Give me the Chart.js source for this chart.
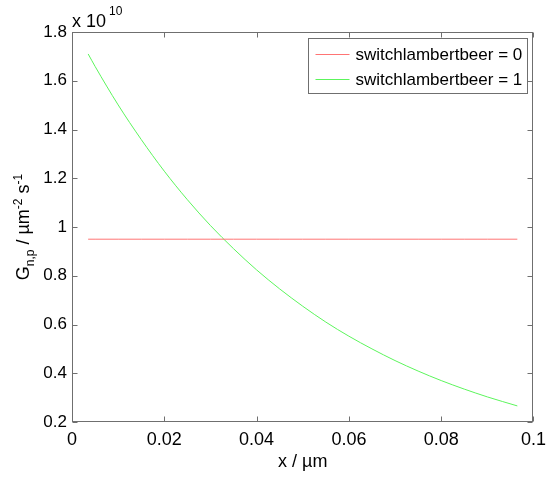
<!DOCTYPE html>
<html>
<head>
<meta charset="utf-8">
<script src="https://cdn.jsdelivr.net/npm/chart.js@4"></script>
<style>
  html, body { margin: 0; padding: 0; background: #fff; }
</style>
</head>
<body>
<canvas id="chart" width="553" height="478"></canvas>
<script>
// Data (y values in units of 1e10)
const xValues = [0.0035, 0.005, 0.01, 0.015, 0.02, 0.025, 0.03, 0.035, 0.04, 0.045,
                 0.05, 0.055, 0.06, 0.065, 0.07, 0.075, 0.08, 0.085, 0.09, 0.0965];
const lambertBeerOff = [0.95, 0.95, 0.95, 0.95, 0.95, 0.95, 0.95, 0.95, 0.95, 0.95,
                        0.95, 0.95, 0.95, 0.95, 0.95, 0.95, 0.95, 0.95, 0.95, 0.95];
const lambertBeerOn = [1.71, 1.659, 1.501, 1.359, 1.229, 1.112, 1.006, 0.911, 0.824, 0.746,
                       0.675, 0.610, 0.552, 0.500, 0.452, 0.409, 0.370, 0.335, 0.303, 0.266];
const seriesLabels = ['switchlambertbeer = 0', 'switchlambertbeer = 1'];
const xTicks = [0, 0.02, 0.04, 0.06, 0.08, 0.1];
const xTickLabels = ['0', '0.02', '0.04', '0.06', '0.08', '0.1'];
const yTicks = [0.2, 0.4, 0.6, 0.8, 1, 1.2, 1.4, 1.6, 1.8];
const yTickLabels = ['0.2', '0.4', '0.6', '0.8', '1', '1.2', '1.4', '1.6', '1.8'];

const FONT = "'Liberation Sans', Arial, Helvetica, sans-serif";
const AXIS_COLOR = '#6f6f6f';

const toPoints = (ys) => xValues.map((x, i) => ({ x: x, y: ys[i] }));

// draws the matlab-style box, inward ticks, legend and the rich-text labels
const matlabFrame = {
    id: 'matlabFrame',
    afterDraw(chart) {
        const ctx = chart.ctx;
        const a = chart.chartArea;
        const xs = chart.scales.x;
        const ys = chart.scales.y;
        const L = Math.round(a.left) + 0.5, R = Math.round(a.right) - 0.5;
        const T = Math.round(a.top) + 0.5, B = Math.round(a.bottom) - 0.5;
        const tl = 5;

        ctx.save();
        ctx.strokeStyle = AXIS_COLOR;
        ctx.lineWidth = 1;
        ctx.strokeRect(L, T, R - L, B - T);
        ctx.beginPath();
        xTicks.forEach(v => {
            const px = Math.round(xs.getPixelForValue(v)) + 0.5;
            ctx.moveTo(px, B); ctx.lineTo(px, B - tl);
            ctx.moveTo(px, T); ctx.lineTo(px, T + tl);
        });
        yTicks.forEach(v => {
            const py = Math.round(ys.getPixelForValue(v)) + 0.5;
            ctx.moveTo(L, py); ctx.lineTo(L + tl, py);
            ctx.moveTo(R, py); ctx.lineTo(R - tl, py);
        });
        ctx.stroke();

        // exponent above the y axis
        ctx.fillStyle = '#000';
        ctx.textBaseline = 'alphabetic';
        ctx.textAlign = 'left';
        ctx.font = '18px ' + FONT;
        ctx.fillText('x 10', a.left, a.top - 5);
        const w = ctx.measureText('x 10').width;
        ctx.font = '12px ' + FONT;
        ctx.fillText('10', a.left + w + 3, a.top - 17);

        // y axis title with sub/superscripts
        const parts = [
            ['G', 18, 0], ['n,p', 12, 5], [' / \u00b5m', 18, 0], ['-2', 12, -7],
            [' s', 18, 0], ['-1', 12, -7]
        ];
        let total = 0;
        parts.forEach(p => { ctx.font = p[1] + 'px ' + FONT; total += ctx.measureText(p[0]).width; });
        ctx.translate(29, (a.top + a.bottom) / 2);
        ctx.rotate(-Math.PI / 2);
        let cx = -total / 2;
        parts.forEach(p => {
            ctx.font = p[1] + 'px ' + FONT;
            ctx.fillText(p[0], cx, p[2]);
            cx += ctx.measureText(p[0]).width;
        });
        ctx.setTransform(1, 0, 0, 1, 0, 0);

        // x axis title
        ctx.font = '18px ' + FONT;
        ctx.textAlign = 'center';
        ctx.fillText('x / \u00b5m', (a.left + a.right) / 2, 467);

        // legend box in the top right corner
        ctx.font = '17px ' + FONT;
        ctx.textAlign = 'left';
        ctx.textBaseline = 'middle';
        let tw = 0;
        seriesLabels.forEach(s => { tw = Math.max(tw, ctx.measureText(s).width); });
        const bw = Math.round(48 + tw + 4), bh = 55;
        const bx = Math.round(a.right) - 6 - bw + 0.5, by = Math.round(a.top) + 6 + 0.5;
        ctx.fillStyle = '#fff';
        ctx.fillRect(bx, by, bw, bh);
        ctx.strokeStyle = AXIS_COLOR;
        ctx.strokeRect(bx, by, bw, bh);
        chart.data.datasets.forEach((ds, i) => {
            const ry = Math.round(by + 15 + i * 25) + 0.5;
            ctx.strokeStyle = ds.borderColor;
            ctx.beginPath();
            ctx.moveTo(bx + 7, ry); ctx.lineTo(bx + 41, ry);
            ctx.stroke();
            ctx.fillStyle = '#000';
            ctx.fillText(ds.label, bx + 47, ry + 1);
        });
        ctx.restore();
    }
};

const chart = new Chart(document.getElementById('chart').getContext('2d'), {
    type: 'line',
    data: {
        datasets: [
            {
                label: seriesLabels[0],
                data: toPoints(lambertBeerOff),
                borderColor: '#ff7474',
                borderWidth: 1,
                pointRadius: 0,
                fill: false,
            },
            {
                label: seriesLabels[1],
                data: toPoints(lambertBeerOn),
                borderColor: '#5cf55c',
                borderWidth: 1,
                pointRadius: 0,
                fill: false,
                cubicInterpolationMode: 'monotone',
            },
        ],
    },
    options: {
        responsive: false,
        animation: false,
        layout: { padding: { left: 0, top: 32, right: 11, bottom: 0 } },
        plugins: {
            legend: { display: false },
            tooltip: { enabled: false },
        },
        scales: {
            x: {
                type: 'linear',
                min: 0,
                max: 0.1,
                afterBuildTicks: (s) => { s.ticks = xTicks.map(v => ({ value: v })); },
                afterFit: (s) => { s.height = 56; },
                ticks: {
                    color: '#000',
                    font: { family: FONT, size: 18 },
                    padding: 7,
                    maxRotation: 0,
                    callback: (v, i) => xTickLabels[i],
                },
                grid: { display: false, drawTicks: false },
                border: { display: false },
            },
            y: {
                type: 'linear',
                min: 0.2,
                max: 1.8,
                afterBuildTicks: (s) => { s.ticks = yTicks.map(v => ({ value: v })); },
                afterFit: (s) => { s.width = 72; },
                ticks: {
                    color: '#000',
                    font: { family: FONT, size: 17 },
                    padding: 5,
                    callback: (v, i) => yTickLabels[i],
                },
                grid: { display: false, drawTicks: false },
                border: { display: false },
            },
        },
    },
    plugins: [matlabFrame],
});
</script>
</body>
</html>
